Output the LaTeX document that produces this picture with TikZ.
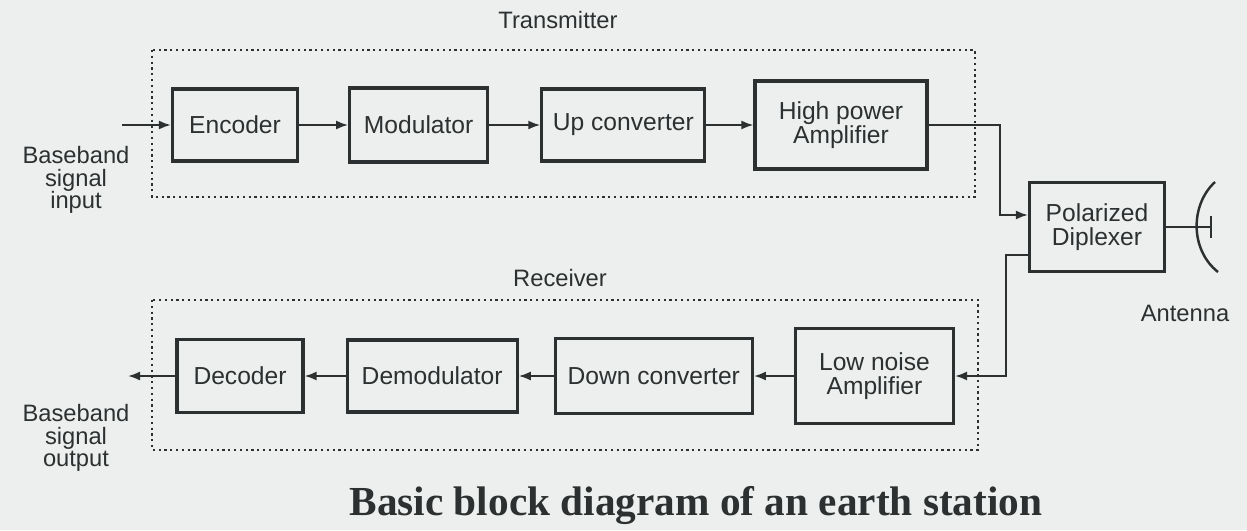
\documentclass[tikz,border=0pt]{standalone}
\usepackage{fontspec}
\setmainfont{Liberation Sans}
\newfontfamily\captionfont{Liberation Serif}
\usetikzlibrary{positioning,arrows.meta}
\definecolor{paper}{RGB}{237,239,239}
\definecolor{ink}{RGB}{45,48,48}

\begin{document}
\begin{tikzpicture}[x=0.2mm,y=-0.2mm,
    blk/.style={draw=ink,line width=1.8pt,minimum height=14.4mm,align=center,font=\fontsize{14}{13.5}\selectfont,text=ink,inner sep=2pt},
    arr/.style={-{Latex[length=2.4mm,width=1.8mm]},draw=ink,line width=1.1pt},
    grp/.style={draw=ink,dotted,line width=1.3pt},
    lbl/.style={font=\fontsize{13.5}{13}\selectfont,text=ink,align=center}
  ]
    \fill[paper] (0,0) rectangle (1247,530);
    \useasboundingbox (0,0) rectangle (1247,530);
    % transmitter
    \draw[grp] (152,50) rectangle (975,197);
    \node[lbl] (tx) at (558,20) {Transmitter};
    \node[blk,minimum width=25mm] (enc) at (235,125) {Encoder};
    \node[blk,minimum width=27.6mm,minimum height=14.8mm,right=9.8mm of enc] (mod) {Modulator};
    \node[blk,minimum width=32.6mm,right=10.2mm of mod] (up) {Up converter};
    \node[blk,minimum width=34.4mm,minimum height=17.6mm,right=9.4mm of up] (hpa) {High power\\Amplifier};
    \coordinate (in) at (122,125);
    \node[lbl] (bin) at (76,180) {Baseband\\signal\\input};
    \draw[arr] (in) -- (enc);
    \draw[arr] (enc) -- (mod);
    \draw[arr] (mod) -- (up);
    \draw[arr] (up) -- (hpa);
    % diplexer and antenna
    \node[blk,minimum width=27mm,minimum height=17.8mm] (dip) at (1097,227) {Polarized\\Diplexer};
    \draw[arr] (hpa.east) -- ++(14.2mm,0) |- ([yshift=2.4mm]dip.west);
    \draw[ink,line width=1.1pt] (dip.east) -- ++(9mm,0) coordinate (feed);
    \draw[ink,line width=1.1pt] ([yshift=2.2mm]feed) -- ([yshift=-2.2mm]feed);
    \coordinate (dish) at (1215,182);
    \draw[ink,line width=1.4pt] (dish) .. controls (1190,205) and (1190,250) .. (1218,272);
    \node[lbl] (ant) at (1185,313) {Antenna};
    % receiver
    \draw[grp] (152,300) rectangle (978,450);
    \node[lbl] (rx) at (560,278) {Receiver};
    \node[blk,minimum width=25.2mm,minimum height=14.6mm] (dec) at (240,376) {Decoder};
    \node[blk,minimum width=34mm,right=8.2mm of dec] (dem) {Demodulator};
    \node[blk,minimum width=39.4mm,minimum height=15mm,right=7mm of dem] (down) {Down converter};
    \node[blk,minimum width=31.6mm,minimum height=19mm,right=8mm of down] (lna) {Low noise\\Amplifier};
    \draw[arr] ([yshift=-5.6mm]dip.west) -- ++(-4.4mm,0) |- (lna.east);
    \draw[arr] (lna) -- (down);
    \draw[arr] (down) -- (dem);
    \draw[arr] (dem) -- (dec);
    \coordinate (out) at (128,376);
    \draw[arr] (dec) -- (out);
    \node[lbl] (bout) at (76,438) {Baseband\\signal\\output};
    % caption
    \node[font=\captionfont\bfseries\fontsize{23.5}{26}\selectfont,text=ink] (ttl) at (696,506) {Basic block diagram of an earth station};
\end{tikzpicture}
\end{document}
